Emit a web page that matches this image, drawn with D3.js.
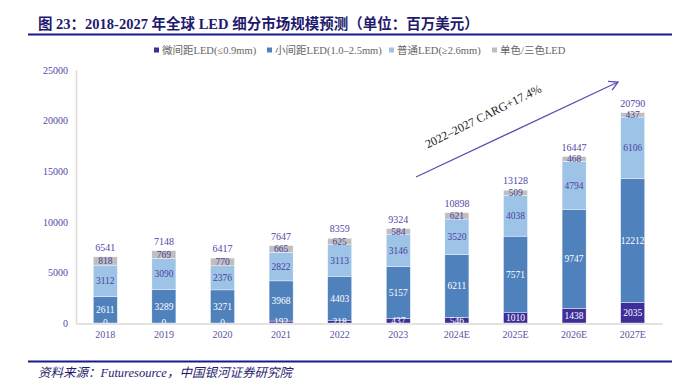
<!DOCTYPE html>
<html><head><meta charset="utf-8">
<script src="https://cdn.jsdelivr.net/npm/d3@7"></script>
<style>body{margin:0;background:#fff}svg{display:block}</style>
</head><body>
<svg id="c" width="680" height="385"></svg>
<script>
const categories = ["2018","2019","2020","2021","2022","2023","2024E","2025E","2026E","2027E"];
const micro  = [0,0,0,192,218,437,546,1010,1438,2035];
const small  = [2611,3289,3271,3968,4403,5157,6211,7571,9747,12212];
const normal = [3112,3090,2376,2822,3113,3146,3520,4038,4794,6106];
const mono   = [818,769,770,665,625,584,621,509,468,437];
const totals = [6541,7148,6417,7647,8359,9324,10898,13128,16447,20790];
const seriesNames = ["微间距LED(≤0.9mm)","小间距LED(1.0–2.5mm)","普通LED(≥2.6mm)","单色/三色LED"];
const yTicks = [0,5000,10000,15000,20000,25000];
const titleText = "图 23：2018-2027 年全球 LED 细分市场规模预测（单位：百万美元）";
const sourceText = "资料来源：Futuresource，中国银河证券研究院";
const cagrText = "2022–2027 CARG+17.4%";

const colors = ["#3d2e99","#4f81bd","#9dc3e6","#bfbfbf"];
const labelColors = ["#ffffff","#ffffff","#4b3fa0","#4b3fa0"];
const serif = "'Liberation Serif','DejaVu Serif','Noto Sans CJK SC',serif";
const svg = d3.select("#c");

// title
svg.append("text").attr("x",38).attr("y",29).attr("font-family",serif)
  .attr("font-weight","bold").attr("font-size",14.5).attr("fill","#1f1a6e").text(titleText);
svg.append("line").attr("x1",28).attr("x2",672).attr("y1",34.5).attr("y2",34.5)
  .attr("stroke","#1a1a8c").attr("stroke-width",2);

// legend
const legX = [154,267,389,492];
seriesNames.forEach((n,i)=>{
  svg.append("rect").attr("x",legX[i]).attr("y",47.5).attr("width",5).attr("height",5).attr("fill",colors[i]);
  svg.append("text").attr("x",legX[i]+8).attr("y",54).attr("font-family",serif)
    .attr("font-size",10.5).attr("fill","#666").text(n);
});

const x = d3.scaleBand().domain(categories).range([76,662]).paddingInner(0.59).paddingOuter(0.295);
const y = d3.scaleLinear().domain([0,25000]).range([323,70]);

// axes
const ya = svg.append("g").attr("transform","translate(76,0)")
  .call(d3.axisLeft(y).tickValues(yTicks).tickSize(0).tickPadding(8).tickFormat(d3.format("d")));
ya.select(".domain").attr("stroke","#d9d9d9").attr("stroke-width",1.5);
ya.selectAll("text").attr("font-family",serif).attr("font-size",10).attr("fill","#5346a8");

const xa = svg.append("g").attr("transform","translate(0,323.5)")
  .call(d3.axisBottom(x).tickSize(0).tickPadding(7));
xa.select(".domain").attr("stroke","#d9d9d9").attr("stroke-width",1.5);
xa.selectAll("text").attr("font-family",serif).attr("font-size",10).attr("fill","#5b52a3");

// stacked data
const rows = categories.map((c,i)=>({cat:c, s0:micro[i], s1:small[i], s2:normal[i], s3:mono[i]}));
const stack = d3.stack().keys(["s0","s1","s2","s3"])(rows);

svg.append("clipPath").attr("id","clip").append("rect").attr("x",70).attr("y",40).attr("width",600).attr("height",283);
const plot = svg.append("g").attr("clip-path","url(#clip)");

stack.forEach((layer,k)=>{
  plot.selectAll(null).data(layer).enter().append("rect")
    .attr("x",d=>x(d.data.cat)).attr("width",x.bandwidth())
    .attr("y",d=>y(d[1])).attr("height",d=>y(d[0])-y(d[1]))
    .attr("fill",colors[k]).attr("stroke","#ffffff").attr("stroke-width",0.4);
});
stack.forEach((layer,k)=>{
  plot.selectAll(null).data(layer).enter().append("text")
    .attr("x",d=>x(d.data.cat)+x.bandwidth()/2)
    .attr("y",d=>(y(d[0])+y(d[1]))/2).attr("dy","0.35em")
    .attr("text-anchor","middle").attr("font-family",serif).attr("font-size",9.5)
    .attr("fill",labelColors[k]).text(d=>d[1]-d[0]);
});

// totals
svg.selectAll(null).data(rows).enter().append("text")
  .attr("x",d=>x(d.cat)+x.bandwidth()/2)
  .attr("y",(d,i)=>y(totals[i])-6)
  .attr("text-anchor","middle").attr("font-family",serif).attr("font-size",10)
  .attr("fill","#5346a8").text((d,i)=>totals[i]);

// arrow
const ax1=416, ay1=177, ax2=618, ay2=82;
svg.append("line").attr("x1",ax1).attr("y1",ay1).attr("x2",ax2).attr("y2",ay2)
  .attr("stroke","#5a4fb5").attr("stroke-width",1.3);
const ang = Math.atan2(ay2-ay1, ax2-ax1);
const hl = 10, ha = 0.5;
svg.append("path").attr("d",`M${ax2-hl*Math.cos(ang-ha)},${ay2-hl*Math.sin(ang-ha)}L${ax2},${ay2}L${ax2-hl*Math.cos(ang+ha)},${ay2-hl*Math.sin(ang+ha)}`)
  .attr("fill","none").attr("stroke","#5a4fb5").attr("stroke-width",1.3);
svg.append("text").attr("transform",`translate(485,120) rotate(-26.5)`)
  .attr("text-anchor","middle").attr("font-family",serif).attr("font-size",12)
  .attr("fill","#222").text(cagrText);

// source
svg.append("line").attr("x1",28).attr("x2",672).attr("y1",361.5).attr("y2",361.5)
  .attr("stroke","#1a1a8c").attr("stroke-width",2);
svg.append("text").attr("x",38).attr("y",377).attr("font-family",serif).attr("font-style","italic")
  .attr("font-size",12.5).attr("fill","#1f1a6e").text(sourceText);
</script>
</body></html>
